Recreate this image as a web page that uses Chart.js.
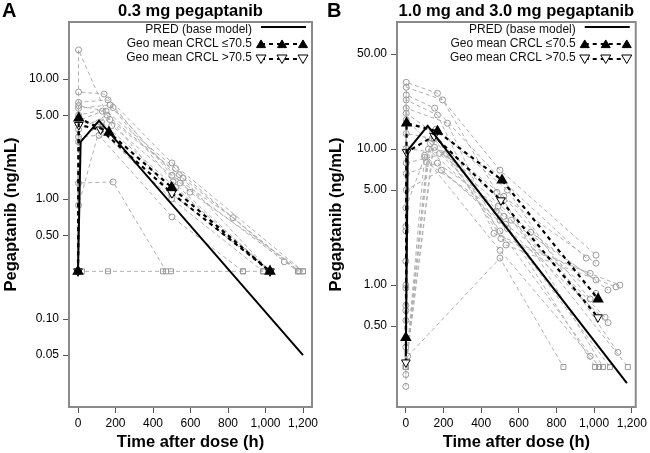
<!DOCTYPE html>
<html>
<head>
<meta charset="utf-8">
<script src="https://cdn.jsdelivr.net/npm/chart.js@4.4.1/dist/chart.umd.min.js"></script>
<style>
  body { margin: 0; background: #fff; }
  .panel { position: absolute; top: 0; width: 325px; height: 453px; }
</style>
</head>
<body>
<div class="panel" style="left:0"><canvas id="chartA" width="325" height="453"></canvas></div>
<div class="panel" style="left:325px"><canvas id="chartB" width="325" height="453"></canvas></div>
<script>
// Tick labels
var xTicks = [0, 200, 400, 600, 800, 1000, 1200];
var yTicksA = [0.05, 0.1, 0.5, 1, 5, 10];
var yTicksB = [0.5, 1, 5, 10, 50];

// Panel A: 0.3 mg  [time (h), concentration (ng/mL)]
var aPred = [[0, 0.25], [14, 3.0], [112, 4.5], [1200, 0.05]];
var aLow = [[0, 0.25], [4, 4.73], [165, 3.6], [500, 1.25], [1024, 0.25]];
var aHigh = [[0, 0.25], [4, 4.14], [120, 3.8], [501, 1.12], [1024, 0.25]];
var aSubjects = [
  [[0, 0.25], [21, 0.25], [160, 0.25], [453, 0.25], [496, 0.25], [880, 0.25], [987, 0.25]],
  [[0, 0.25], [3, 17.5], [180, 4.1], [545, 1.36], [1173, 0.25]],
  [[0, 0.25], [3, 7.8], [139, 7.5], [501, 2.0], [1200, 0.25]],
  [[0, 0.25], [3, 6.4], [160, 6.7], [501, 1.58], [827, 0.7], [1173, 0.25]],
  [[0, 0.25], [3, 5.7], [171, 6.1], [507, 1.39], [1024, 0.25]],
  [[0, 0.25], [3, 5.0], [187, 5.8], [597, 1.14], [1200, 0.25]],
  [[0, 0.25], [3, 3.8], [155, 5.0], [501, 1.1], [1024, 0.25]],
  [[0, 0.25], [3, 3.3], [112, 3.4], [501, 0.71], [880, 0.25]],
  [[0, 0.25], [3, 1.36], [187, 1.39], [470, 0.25]],
  [[0, 0.25], [3, 0.89], [125, 4.4], [520, 1.25], [1024, 0.25]],
  [[0, 0.25], [3, 4.5], [130, 5.4], [540, 1.6], [1024, 0.25]],
  [[0, 0.25], [3, 3.0], [100, 4.0], [500, 1.0], [987, 0.25]],
  [[0, 0.25], [3, 6.0], [150, 5.4], [520, 1.8], [1100, 0.3]],
  [[0, 0.25], [3, 4.2], [170, 4.6], [560, 1.5], [1180, 0.25]]
];

// Panel B: 1.0 mg and 3.0 mg
var bPred = [[0, 0.3], [10, 9.8], [116, 14.8], [1174, 0.19]];
var bLow = [[0, 0.41], [4, 15.5], [168, 13.5], [511, 5.9], [1021, 0.79]];
var bHigh = [[0, 0.27], [4, 9.5], [150, 12.5], [505, 4.2], [1020, 0.58]];
var bSubjects = [
  [[0, 0.25], [2, 31], [168, 25.7], [500, 7.0], [1010, 1.66]],
  [[0, 0.22], [2, 28.5], [195, 23], [484, 4.8], [1010, 1.45]],
  [[0, 0.18], [2, 25], [153, 20], [511, 5.9], [958, 1.58]],
  [[0, 0.35], [2, 23], [168, 17.8], [468, 2.4], [979, 1.22]],
  [[0, 0.55], [2, 20], [221, 15.5], [505, 2.2], [1137, 1.0]],
  [[0, 0.65], [2, 18.3], [142, 13.4], [532, 1.97], [1116, 0.97]],
  [[0, 0.71], [2, 16.4], [153, 10.3], [663, 2.45], [1074, 0.92]],
  [[0, 0.95], [2, 10.1], [179, 9.3], [520, 3.2], [1010, 1.09]],
  [[0, 1.5], [2, 7.9], [216, 9.3], [530, 2.8], [1010, 0.87]],
  [[0, 2.5], [2, 6.6], [168, 7.9], [490, 3.8], [1058, 0.58]],
  [[0, 2.7], [2, 5.0], [189, 7.0], [540, 2.6], [1074, 0.53]],
  [[10, 0.3], [500, 1.58], [837, 0.25]],
  [[0, 3.7], [100, 8.7], [500, 1.8], [979, 0.3]],
  [[0, 0.25], [120, 10], [480, 3.5], [1005, 0.25]],
  [[0, 0.25], [150, 12], [500, 2.5], [1026, 0.25]],
  [[0, 0.25], [130, 11], [520, 4.2], [1047, 0.25]],
  [[0, 0.25], [100, 9], [500, 3.0], [1084, 0.25]],
  [[0, 0.25], [160, 14], [540, 5.0], [1126, 0.32]],
  [[0, 0.25], [110, 8.0], [560, 3.0], [1179, 0.25]],
  [[0, 1.0], [2, 13], [140, 12], [520, 4.5], [979, 0.79]]
];

var FONT = '"Liberation Sans", Arial, sans-serif';
var BLQ = 0.25;

function toXY(arr) {
  return arr.map(p => ({ x: p[0], y: p[1] }));
}

// triangle for the legend samples
function tri(ctx, x, y, r, down, filled) {
  ctx.beginPath();
  if (down) {
    ctx.moveTo(x - r, y - r * 0.8); ctx.lineTo(x + r, y - r * 0.8); ctx.lineTo(x, y + r * 0.9);
  } else {
    ctx.moveTo(x - r, y + r * 0.8); ctx.lineTo(x + r, y + r * 0.8); ctx.lineTo(x, y - r * 0.9);
  }
  ctx.closePath();
  ctx.fillStyle = filled ? '#000' : '#fff';
  ctx.fill();
  ctx.lineWidth = 1;
  ctx.strokeStyle = '#000';
  ctx.setLineDash([]);
  ctx.stroke();
}

var decor = {
  id: 'decor',
  afterDatasetsDraw(chart, args, opts) {
    var ctx = chart.ctx, a = chart.chartArea;
    ctx.save();
    // frame
    ctx.strokeStyle = '#8a8a8a';
    ctx.lineWidth = 2;
    ctx.strokeRect(a.left, a.top, a.right - a.left, a.bottom - a.top);

    // titles
    ctx.fillStyle = '#000';
    ctx.textBaseline = 'middle';
    ctx.font = 'bold 20px ' + FONT;
    ctx.textAlign = 'left';
    ctx.fillText(opts.letter, 2, 11);
    ctx.font = 'bold 16.5px ' + FONT;
    ctx.textAlign = 'center';
    ctx.fillText(opts.title, (a.left + a.right) / 2, 11);

    // legend in top right corner
    var tx = a.right - 60, x0 = a.right - 51, x1 = a.right - 9;
    var rows = [a.top + 8, a.top + 22, a.top + 36];
    ctx.font = '12px ' + FONT;
    ctx.textAlign = 'right';
    ctx.fillStyle = '#111';
    ctx.fillText('PRED (base model)', tx, rows[0]);
    ctx.fillText('Geo mean CRCL \u226470.5', tx, rows[1]);
    ctx.fillText('Geo mean CRCL >70.5', tx, rows[2]);

    ctx.strokeStyle = '#000';
    ctx.lineWidth = 2;
    ctx.beginPath(); ctx.moveTo(x0, rows[0] - 3); ctx.lineTo(x1 + 3, rows[0] - 3); ctx.stroke();

    ctx.setLineDash([4, 4]);
    ctx.beginPath(); ctx.moveTo(x0, rows[1]); ctx.lineTo(x1, rows[1]); ctx.stroke();
    ctx.beginPath(); ctx.moveTo(x0, rows[2] + 1); ctx.lineTo(x1, rows[2] + 1); ctx.stroke();
    [x0, (x0 + x1) / 2, x1].forEach(function (x) {
      tri(ctx, x, rows[1], 4.5, false, true);
      tri(ctx, x, rows[2] + 1, 5, true, false);
    });
    ctx.restore();
  }
};

function makePanel(id, o) {
  var datasets = [];
  datasets.push({
    data: toXY(o.pred), showLine: true, borderColor: '#000', borderWidth: 2,
    pointRadius: 0
  });
  datasets.push({
    data: toXY(o.low), showLine: true, borderColor: '#000', borderWidth: 2.2, borderDash: [4, 4],
    pointStyle: 'triangle', pointRadius: 4.5, pointBackgroundColor: '#000', pointBorderColor: '#000'
  });
  datasets.push({
    data: toXY(o.high), showLine: true, borderColor: '#000', borderWidth: 2.2, borderDash: [4, 4],
    pointStyle: 'triangle', pointRotation: 180, pointRadius: 5, pointBackgroundColor: '#fff',
    pointBorderColor: '#000', pointBorderWidth: 1
  });
  o.subjects.forEach(function (s) {
    datasets.push({
      data: toXY(s), showLine: true, borderColor: '#b0b0b0', borderWidth: 1, borderDash: [4, 3],
      pointStyle: ctx => (ctx.raw && ctx.raw.y === BLQ ? 'rect' : 'circle'),
      pointRadius: ctx => (ctx.raw && ctx.raw.y === BLQ ? 3.5 : 3),
      pointBackgroundColor: 'rgba(255,255,255,0)', pointBorderColor: '#9a9a9a', pointBorderWidth: 1
    });
  });

  return new Chart(document.getElementById(id), {
    type: 'scatter',
    data: { datasets: datasets },
    plugins: [decor],
    options: {
      responsive: false,
      animation: false,
      devicePixelRatio: 1,
      layout: { padding: { left: 0, right: o.padRight, top: 22, bottom: 0 } },
      plugins: {
        legend: { display: false },
        tooltip: { enabled: false },
        decor: { letter: o.letter, title: o.title }
      },
      scales: {
        x: {
          type: 'linear', min: o.xMin, max: o.xMax,
          afterBuildTicks: s => { s.ticks = xTicks.map(v => ({ value: v })); },
          afterFit: s => { s.height = 46; },
          grid: { drawOnChartArea: false, drawTicks: true, tickLength: 6, color: '#555' },
          border: { display: false },
          ticks: {
            autoSkip: false, maxRotation: 0, padding: 3, color: '#000',
            font: { family: FONT, size: 12 },
            callback: v => v.toLocaleString('en-US')
          },
          title: {
            display: true, text: 'Time after dose (h)', color: '#000',
            font: { family: FONT, size: 16.5, weight: 'bold' }, padding: { top: 0, bottom: 1 }
          }
        },
        y: {
          type: 'logarithmic', min: o.yMin, max: o.yMax,
          afterBuildTicks: s => { s.ticks = o.yTicks.map(v => ({ value: v })); },
          afterFit: s => { s.width = o.yWidth; },
          grid: { drawOnChartArea: false, drawTicks: true, tickLength: 6, color: '#555' },
          border: { display: false },
          ticks: {
            autoSkip: false, padding: 4, color: '#000',
            font: { family: FONT, size: 12 },
            callback: v => Number(v).toFixed(2)
          },
          title: {
            display: true, text: 'Pegaptanib (ng/mL)', color: '#000',
            font: { family: FONT, size: 16.5, weight: 'bold' }, padding: { top: 2, bottom: 0 }
          }
        }
      }
    }
  });
}

makePanel('chartA', {
  letter: 'A', title: '0.3 mg pegaptanib',
  pred: aPred, low: aLow, high: aHigh, subjects: aSubjects,
  xMin: -48, xMax: 1248, yMin: 0.0185, yMax: 29.9, yTicks: yTicksA,
  yWidth: 69, padRight: 13
});

makePanel('chartB', {
  letter: 'B', title: '1.0 mg and 3.0 mg pegaptanib',
  pred: bPred, low: bLow, high: bHigh, subjects: bSubjects,
  xMin: -47, xMax: 1221, yMin: 0.127, yMax: 86, yTicks: yTicksB,
  yWidth: 72, padRight: 12
});
</script>
</body>
</html>
